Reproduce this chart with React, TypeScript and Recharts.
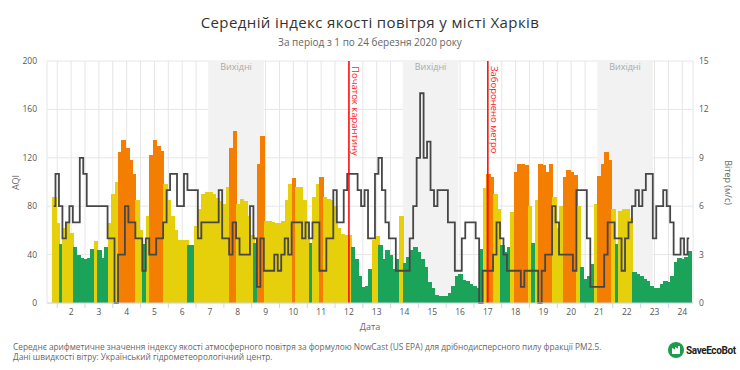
import {
  ComposedChart,
  Bar,
  Line,
  XAxis,
  YAxis,
  CartesianGrid,
  ReferenceArea,
  ReferenceLine,
} from "recharts";

// 3-hour blocks starting 1 March 09:00 (hours counted from 1 March 00:00)
const START_HOUR = 9;
const STEP_HOURS = 3;

// NowCast AQI (PM2.5), one value per 3-hour block
const AQI_VALUES = [
  88, 66, 49, 62, 67,
  58, 46, 40, 37, 36, 37, 45, 51,
  44, 37, 46, 66, 90, 100, 125, 135,
  128, 118, 107, 85, 60, 49, 72, 122,
  135, 130, 126, 98, 85, 72, 60, 52,
  52, 52, 48, 48, 64, 78, 90, 92,
  92, 90, 87, 84, 82, 96, 128, 142,
  82, 86, 84, 72, 56, 50, 115, 138,
  68, 68, 67, 66, 66, 68, 85, 98,
  103, 96, 96, 85, 66, 50, 88, 98,
  104, 88, 86, 85, 80, 62, 57, 56,
  56, 46, 36, 22, 13, 14, 28, 52,
  55, 48, 36, 44, 40, 28, 36, 72,
  33, 38, 44, 46, 42, 36, 30, 17,
  12, 7, 6, 6, 6, 8, 14, 22,
  24, 19, 18, 16, 14, 12, 45, 95,
  107, 104, 90, 78, 48, 42, 46, 75,
  108, 115, 115, 114, 80, 50, 85, 115,
  114, 108, 115, 88, 62, 80, 104, 110,
  108, 106, 80, 30, 20, 22, 32, 82,
  105, 115, 125, 118, 78, 49, 76, 78,
  78, 70, 26, 24, 22, 20, 18, 14,
  12, 12, 16, 18, 17, 22, 34, 37,
  36, 38, 43,
];

// wind speed, m/s
const WIND_VALUES = [
  6, 8, 6, 4, 5,
  6, 5, 5, 9, 8, 6, 6, 6,
  6, 6, 6, 4, 4, 0, 3, 3,
  6, 5, 5, 4, 4, 2, 4, 3,
  3, 4, 4, 5, 7, 8, 8, 6,
  6, 8, 7, 7, 7, 4, 5, 5,
  5, 5, 5, 7, 4, 4, 3, 5,
  4, 3, 3, 3, 6, 4, 1, 4,
  2, 2, 2, 3, 2, 3, 4, 3,
  5, 5, 5, 4, 5, 4, 5, 5,
  2, 2, 4, 4, 7, 5, 5, 7,
  8, 8, 8, 7, 6, 7, 4, 4,
  8, 9, 7, 5, 4, 4, 2, 2,
  2, 2, 4, 6, 9, 13, 9, 10,
  7, 6, 7, 7, 7, 5, 5, 2,
  2, 4, 5, 5, 5, 4, 0, 2,
  2, 2, 3, 5, 4, 3, 2, 2,
  2, 2, 1, 2, 2, 2, 2, 0,
  2, 3, 3, 6, 5, 3, 3, 3,
  3, 2, 7, 7, 7, 4, 1, 1,
  1, 1, 3, 5, 5, 4, 4, 2,
  4, 5, 6, 7, 6, 7, 8, 8,
  4, 6, 6, 7, 6, 5, 3, 3,
  4, 3, 4,
];

const DAYS = [2, 3, 4, 5, 6, 7, 8, 9, 10, 11, 12, 13, 14, 15, 16, 17, 18, 19, 20, 21, 22, 23, 24];
const WEEKENDS = [
  [7, 8],
  [14, 15],
  [21, 22],
];
const EVENTS = [
  { day: 12, text: "Початок карантину" },
  { day: 17, text: "Заборонено метро" },
];

const AQI_TICKS = [0, 40, 80, 120, 160, 200];
const WIND_TICKS = [0, 3, 6, 9, 12, 15];

const LEVEL_LIMITS = [50, 100];
const LEVEL_COLORS = ["#1ba35a", "#e6cf0b", "#f47e02"];

const FONT = "'Open Sans', 'Noto Sans', sans-serif";

const levelColor = (v: number) => {
  const idx = LEVEL_LIMITS.findIndex((lim) => v <= lim);
  return LEVEL_COLORS[idx === -1 ? LEVEL_COLORS.length - 1 : idx];
};

const dayStart = (d: number) => (d - 1) * 24;

const rows = AQI_VALUES.map((aqi, i) => ({
  t: START_HOUR + STEP_HOURS * i,
  aqi,
  wind: WIND_VALUES[i],
  fill: levelColor(aqi),
}));

// midnight ticks carry the day number, noon ticks are just small marks
const TICKS = DAYS.flatMap((d) => [dayStart(d) - 12, dayStart(d)]);

function DayTick(props: any) {
  const { x, y, payload } = props;
  const t = payload.value as number;
  if (t % 24 !== 0) {
    return <line x1={x} x2={x} y1={y - 6} y2={y - 1} stroke="#ccd6eb" />;
  }
  return (
    <text x={x} y={y} dy="0.75em" textAnchor="middle" fontSize={8.5} fill="#555" fontFamily={FONT}>
      {t / 24 + 1}
    </text>
  );
}

// bars touch each other; overlap them a bit so no white seams show
function HourBar(props: any) {
  const { x, y, width, height, payload } = props;
  if (!height || height <= 0) return null;
  return (
    <rect x={x} y={y} width={width + 1.6} height={height} fill={payload.fill} shapeRendering="crispEdges" />
  );
}

function EventLabel(props: any) {
  const { viewBox, value } = props;
  const x = viewBox.x + 3;
  const y = viewBox.y + 5;
  return (
    <text
      x={x}
      y={y}
      transform={`rotate(90 ${x} ${y})`}
      fontSize={9.5}
      fill="#ff1a1a"
      fontFamily={FONT}
    >
      {value}
    </text>
  );
}

export default function App() {
  return (
    <div style={{ position: "relative", width: 740, height: 370, fontFamily: FONT, background: "#fff" }}>
      <style>{"body{margin:0}"}</style>

      <div
        style={{
          position: "absolute",
          top: 12,
          left: 0,
          width: 740,
          textAlign: "center",
          fontSize: 15,
          color: "#333",
          letterSpacing: 0.4,
        }}
      >
        Середній індекс якості повітря у місті Харків
      </div>
      <div
        style={{
          position: "absolute",
          top: 35,
          left: 0,
          width: 740,
          textAlign: "center",
          fontSize: 10,
          color: "#666",
        }}
      >
        За період з 1 по 24 березня 2020 року
      </div>

      <ComposedChart
        width={740}
        height={370}
        data={rows}
        margin={{ top: 61, right: 0, bottom: 37, left: 0 }}
        barCategoryGap="0%"
        barGap={0}
        style={{ position: "absolute", left: 0, top: 0 }}
      >
        <CartesianGrid stroke="#e6e6e6" yAxisId="aqi" />
        {WEEKENDS.map(([d1, d2]) => (
          <ReferenceArea
            key={d1}
            yAxisId="aqi"
            x1={dayStart(d1)}
            x2={dayStart(d2 + 1) - STEP_HOURS}
            fill="#f2f2f2"
            fillOpacity={1}
            label={{ value: "Вихідні", position: "insideTop", offset: 3, fill: "#aaa", fontSize: 9, fontFamily: FONT }}
          />
        ))}
        <XAxis
          dataKey="t"
          type="category"
          ticks={TICKS}
          interval={0}
          tickLine={false}
          axisLine={{ stroke: "#ccd6eb" }}
          tick={<DayTick />}
          tickSize={5}
          tickMargin={1}
          padding={{ left: 5, right: 2 }}
          height={30}
        />
        <YAxis
          yAxisId="aqi"
          domain={[0, 200]}
          ticks={AQI_TICKS}
          width={47}
          axisLine={false}
          tickLine={false}
          tickSize={6}
          tickMargin={4}
          tick={{ fontSize: 8.5, fill: "#555", fontFamily: FONT }}
        />
        <YAxis
          yAxisId="wind"
          orientation="right"
          domain={[0, 15]}
          ticks={WIND_TICKS}
          width={47}
          axisLine={false}
          tickLine={false}
          tickSize={5}
          tickMargin={1}
          tick={{ fontSize: 8.5, fill: "#555", fontFamily: FONT }}
        />
        <Bar dataKey="aqi" yAxisId="aqi" shape={<HourBar />} isAnimationActive={false} />
        <Line
          dataKey="wind"
          yAxisId="wind"
          type="step"
          stroke="#474747"
          strokeWidth={1.8}
          dot={false}
          activeDot={false}
          isAnimationActive={false}
        />
        {EVENTS.map((e) => (
          <ReferenceLine
            key={e.day}
            yAxisId="aqi"
            x={dayStart(e.day)}
            stroke="#ff0000"
            strokeWidth={1.5}
            label={<EventLabel value={e.text} />}
          />
        ))}
      </ComposedChart>

      <div
        style={{
          position: "absolute",
          left: 8,
          top: 176,
          transform: "rotate(-90deg)",
          fontSize: 9,
          color: "#666",
        }}
      >
        AQI
      </div>
      <div
        style={{
          position: "absolute",
          left: 698,
          top: 176,
          width: 60,
          textAlign: "center",
          transform: "rotate(90deg)",
          fontSize: 9,
          color: "#666",
        }}
      >
        Вітер (м/с)
      </div>
      <div
        style={{
          position: "absolute",
          left: 0,
          width: 740,
          top: 320,
          textAlign: "center",
          fontSize: 9,
          color: "#666",
        }}
      >
        Дата
      </div>

      <div style={{ position: "absolute", left: 13, top: 342, fontSize: 8.3, lineHeight: "10px", color: "#666" }}>
        <div>
          Середнє арифметичне значення індексу якості атмосферного повітря за формулою NowCast (US EPA) для
          дрібнодисперсного пилу фракції PM2.5.
        </div>
        <div>Дані швидкості вітру: Український гідрометеорологічний центр.</div>
      </div>

      <div style={{ position: "absolute", left: 668, top: 342, display: "flex", alignItems: "center" }}>
        <svg width={16} height={16}>
          <circle cx={8} cy={8} r={8} fill="#1a9e4b" />
          <path d="M4 12 V6 L7 7.5 V5 L10 6.5 V4 H12 V12 Z" fill="#fff" />
        </svg>
        <span
          style={{
            marginLeft: 2,
            fontSize: 10,
            fontWeight: 700,
            color: "#222",
            letterSpacing: -0.4,
            fontFamily: "'Roboto', sans-serif",
          }}
        >
          SaveEcoBot
        </span>
      </div>
    </div>
  );
}
